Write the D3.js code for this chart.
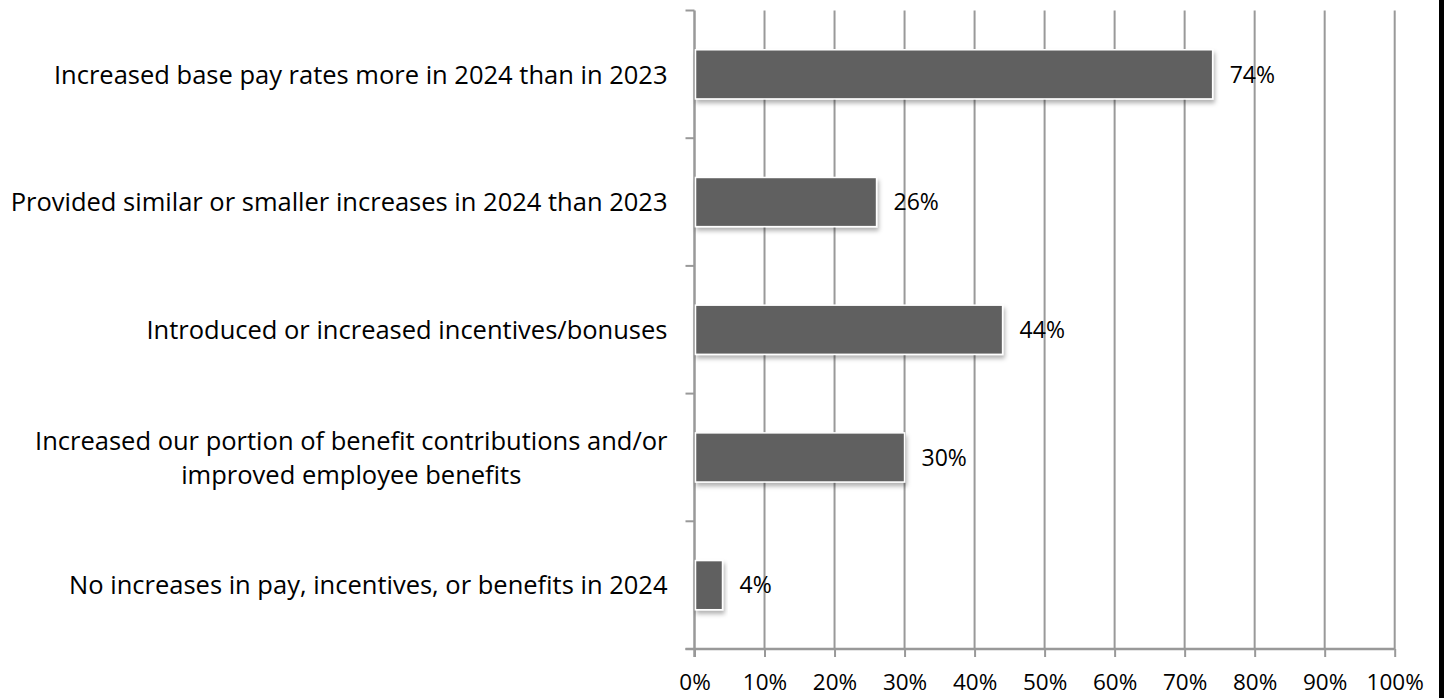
<!DOCTYPE html>
<html>
<head>
<meta charset="utf-8">
<script src="https://cdn.jsdelivr.net/npm/d3@7/dist/d3.min.js"></script>
<style>
  html, body { margin: 0; padding: 0; background: #fff; }
  svg { display: block; }
  text { font-family: "Open Sans", "Noto Sans", sans-serif; fill: #000; }
</style>
</head>
<body>
<svg id="chart" width="1444" height="698"></svg>
<script>
const categories = [
  "Increased base pay rates more in 2024 than in 2023",
  "Provided similar or smaller increases in 2024 than 2023",
  "Introduced or increased incentives/bonuses",
  "Increased our portion of benefit contributions and/or\nimproved employee benefits",
  "No increases in pay, incentives, or benefits in 2024"
];
const values = [0.74, 0.26, 0.44, 0.30, 0.04];
const tickValues = [0, 0.1, 0.2, 0.3, 0.4, 0.5, 0.6, 0.7, 0.8, 0.9, 1.0];

const W = 1444, H = 698;
const margin = { top: 10.5, right: 49.3, bottom: 49, left: 694.5 };
const svg = d3.select("#chart");

const defs = svg.append("defs");
const f = defs.append("filter").attr("id", "shadow")
  .attr("x", "-10%").attr("y", "-30%").attr("width", "130%").attr("height", "180%");
f.append("feDropShadow").attr("dx", 1.5).attr("dy", 3.5).attr("stdDeviation", 2.2)
  .attr("flood-color", "#000").attr("flood-opacity", 0.3);

const x = d3.scaleLinear().domain([0, 1]).range([margin.left, W - margin.right]);
const y = d3.scaleBand().domain(categories).range([margin.top, H - margin.bottom]).padding(0);
const step = y.step();

const gridColor = "#999999";

// vertical gridlines
svg.append("g").selectAll("line").data(tickValues.slice(1)).join("line")
  .attr("x1", d => x(d)).attr("x2", d => x(d))
  .attr("y1", y.range()[0]).attr("y2", y.range()[1])
  .attr("stroke", gridColor).attr("stroke-width", 2);

// x axis
const xAxis = d3.axisBottom(x).tickValues(tickValues).tickFormat(d3.format(".0%"))
  .tickSize(8).tickPadding(17);
const gx = svg.append("g").attr("transform", `translate(0,${y.range()[1]})`).call(xAxis);
gx.select(".domain").attr("stroke", gridColor).attr("stroke-width", 2.5)
  .attr("d", `M${x(0) - 9},0H${x(1)}`);
gx.selectAll(".tick line").attr("stroke", gridColor).attr("stroke-width", 2);
gx.selectAll(".tick text").attr("font-family", "'Open Sans', sans-serif")
  .attr("font-size", 22.5).attr("fill", "#000");

// y axis line and ticks at band boundaries
const bounds = categories.map(c => y(c)).concat([y.range()[1]]);
svg.append("line").attr("x1", x(0)).attr("x2", x(0))
  .attr("y1", y.range()[0]).attr("y2", y.range()[1] + 8)
  .attr("stroke", gridColor).attr("stroke-width", 2.5);
svg.append("g").selectAll("line").data(bounds).join("line")
  .attr("x1", x(0) - 9).attr("x2", x(0))
  .attr("y1", d => d).attr("y2", d => d)
  .attr("stroke", gridColor).attr("stroke-width", 2);

// bars
const barH = step * 0.385;
svg.append("g").selectAll("rect").data(values).join("rect")
  .attr("x", x(0) + 1)
  .attr("y", (d, i) => y(categories[i]) + (step - barH) / 2)
  .attr("width", d => x(d) - x(0) - 1)
  .attr("height", barH)
  .attr("fill", "#616161")
  .attr("stroke", "#ffffff").attr("stroke-width", 1.5)
  .attr("filter", "url(#shadow)");

// data labels
svg.append("g").selectAll("text").data(values).join("text")
  .attr("x", d => x(d) + 17)
  .attr("y", (d, i) => y(categories[i]) + step / 2)
  .attr("dy", "0.36em")
  .attr("font-size", 23)
  .text(d => d3.format(".0%")(d));

// category labels
const labelRight = x(0) - 27;
const lg = svg.append("g");
categories.forEach((c, i) => {
  const lines = c.split("\n");
  const cy = y(c) + step / 2;
  const lh = 34;
  const t = lg.append("text").attr("font-size", 25.5);
  lines.forEach((ln, j) => {
    t.append("tspan").attr("dy", j === 0 ? "0.36em" : lh).attr("x", 0).text(ln);
  });
  if (lines.length > 1) {
    let maxW = 0;
    t.selectAll("tspan").each(function () { maxW = Math.max(maxW, this.getComputedTextLength()); });
    t.attr("text-anchor", "middle");
    t.selectAll("tspan").attr("x", labelRight - maxW / 2);
  } else {
    t.attr("text-anchor", "end");
    t.selectAll("tspan").attr("x", labelRight);
  }
  const offset = -(lines.length - 1) * lh / 2;
  t.attr("transform", `translate(0,${cy + offset})`);
});

// right edge strip
svg.append("rect").attr("x", 1439).attr("y", 0).attr("width", 5).attr("height", H).attr("fill", "#000");
</script>
</body>
</html>
